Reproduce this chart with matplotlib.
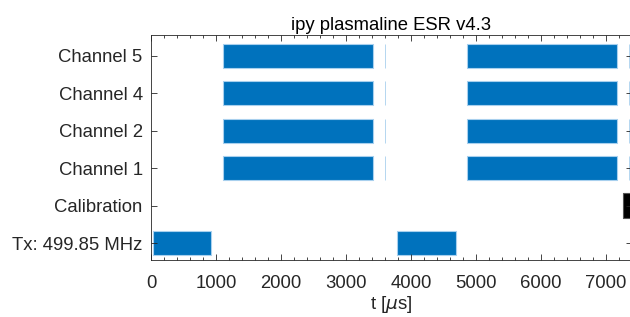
import numpy as np
import matplotlib.pyplot as plt
from matplotlib.ticker import MultipleLocator

plt.rcParams['font.family'] = ['Liberation Sans', 'DejaVu Sans']
plt.rcParams['mathtext.fontset'] = 'dejavusans'

# rows, bottom to top
rows = ['Tx: 499.85 MHz', 'Calibration', 'Channel 1', 'Channel 2', 'Channel 4', 'Channel 5']

# (start, length) in microseconds
tx_pulses = [(25, 900), (3790, 900)]
cal_pulses = [(7255, 400)]
ch_windows = [(1100, 2310), (4855, 2315)]
ch_short = [(3598, 6), (7353, 6)]
channel_rows = ['Channel 1', 'Channel 2', 'Channel 4', 'Channel 5']

blue = '#0072BD'
edge = '#a8d0ee'
fs = 13.3

fig = plt.figure(figsize=(6.3, 3.17), dpi=100)
ax = fig.add_axes([0.2397, 0.18, 0.7635, 0.709])

h = 0.65
ax.broken_barh(tx_pulses, (rows.index('Tx: 499.85 MHz') + 1 - h / 2, h),
               facecolor=blue, edgecolor=edge, linewidth=0.8)
ax.broken_barh(cal_pulses, (rows.index('Calibration') + 1 - h / 2, h),
               facecolor='black', edgecolor='#555555', linewidth=0.8)
for name in channel_rows:
    y0 = rows.index(name) + 1 - h / 2
    ax.broken_barh(ch_windows, (y0, h), facecolor=blue, edgecolor=edge, linewidth=0.8)
    ax.broken_barh(ch_short, (y0, h), facecolor=edge, edgecolor=edge, linewidth=0.6)

ax.set_xlim(0, 7400)
ax.set_ylim(0.55, 6.55)
ax.set_yticks(np.arange(1, len(rows) + 1))
ax.set_yticklabels(rows)
ax.set_xticks(np.arange(0, 8000, 1000))
ax.xaxis.set_minor_locator(MultipleLocator(200))
ax.tick_params(axis='both', which='both', direction='in', top=True, right=True,
               labelsize=fs, colors='#262626')
ax.tick_params(axis='both', which='major', length=4, width=0.6)
ax.tick_params(axis='x', which='minor', length=2.5, width=0.6)
ax.tick_params(axis='x', pad=11)
ax.tick_params(axis='y', pad=6)
for s in ax.spines.values():
    s.set_color('#262626')
    s.set_linewidth(0.6)

ax.set_xlabel(r't [$\mu$s]', fontsize=fs, color='#262626', labelpad=1)
ax.set_title('ipy plasmaline ESR v4.3', fontsize=fs, color='black', pad=4)

fig.savefig('out.png', dpi=100)
